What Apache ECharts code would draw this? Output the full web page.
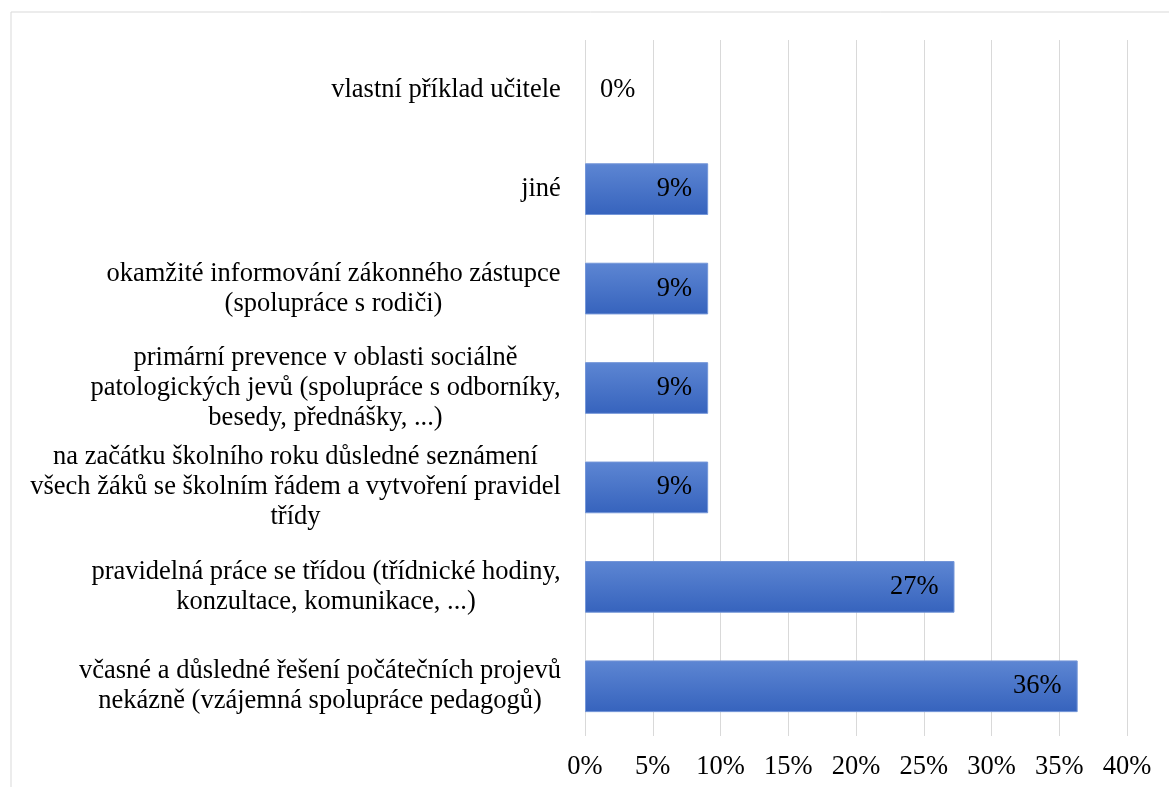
<!DOCTYPE html>
<html>
<head>
<meta charset="utf-8">
<script src="https://cdn.jsdelivr.net/npm/echarts@6/dist/echarts.min.js"></script>
<style>
  html, body { margin: 0; padding: 0; background: #fff; }
  #chart { width: 1169px; height: 787px; }
</style>
</head>
<body>
<div id="chart"></div>
<script>
// kategorie shora dolů
const categories = [
  'vlastní příklad učitele',
  'jiné',
  'okamžité informování zákonného zástupce\n(spolupráce s rodiči)',
  'primární prevence v oblasti sociálně\npatologických jevů (spolupráce s odborníky,\nbesedy, přednášky, ...)',
  'na začátku školního roku důsledné seznámení\nvšech žáků se školním řádem a vytvoření pravidel\ntřídy',
  'pravidelná práce se třídou (třídnické hodiny,\nkonzultace, komunikace, ...)',
  'včasné a důsledné řešení počátečních projevů\nnekázně (vzájemná spolupráce pedagogů)'
]
const values = [0, 9.09, 9.09, 9.09, 9.09, 27.27, 36.36]

const FONT = '"Liberation Serif", "Times New Roman", serif'
const FS = 26.5

// sirka nejdelsiho radku kazde popisky -> radky centrovane, blok zarovnany doprava
const ctx = document.createElement('canvas').getContext('2d')
ctx.font = FS + 'px ' + FONT
const rich = {}
categories.forEach((c, i) => {
  const w = Math.max(...c.split('\n').map(l => ctx.measureText(l).width))
  rich['c' + i] = { width: Math.ceil(w), align: 'center', fontSize: FS, fontFamily: FONT, color: '#000', lineHeight: 30 }
})

const myChart = echarts.init(document.getElementById('chart'))

const option = {
  backgroundColor: '#fff',
  animation: false,
  graphic: [{
    type: 'rect',
    shape: { x: 11, y: 12, width: 1200, height: 800 },
    style: { fill: 'none', stroke: '#d9d9d9', lineWidth: 1 },
    z: -10
  }],
  grid: { left: 585, right: 42, top: 40, bottom: 51 },
  xAxis: {
    type: 'value',
    min: 0,
    max: 40,
    interval: 5,
    axisLine: { show: false },
    axisTick: { show: false },
    axisLabel: {
      formatter: v => v + '%',
      color: '#000',
      fontSize: FS,
      fontFamily: FONT,
      margin: 18
    },
    splitLine: { lineStyle: { color: '#d9d9d9', width: 1 } }
  },
  yAxis: {
    type: 'category',
    inverse: true,
    data: categories,
    axisLine: { show: false },
    axisTick: { show: false },
    axisLabel: {
      margin: 24,
      formatter: (v, idx) => v.split('\n').map(l => '{c' + idx + '|' + l + '}').join('\n'),
      rich: rich
    }
  },
  series: [{
    type: 'bar',
    barCategoryGap: '48%',
    data: values.map(v => v === 0
      ? { value: v, label: { position: 'right', distance: 15 }, itemStyle: { borderWidth: 0 } }
      : { value: v }),
    itemStyle: {
      color: new echarts.graphic.LinearGradient(0, 0, 0, 1, [
        { offset: 0, color: '#5d86d3' },
        { offset: 1, color: '#3663bd' }
      ]),
      borderColor: '#7496d8',
      borderWidth: 1
    },
    label: {
      show: true,
      position: 'insideRight',
      distance: 16,
      formatter: p => Math.round(p.value) + '%',
      color: '#000',
      fontSize: FS,
      fontFamily: FONT
    }
  }]
}
myChart.setOption(option)
</script>
</body>
</html>
